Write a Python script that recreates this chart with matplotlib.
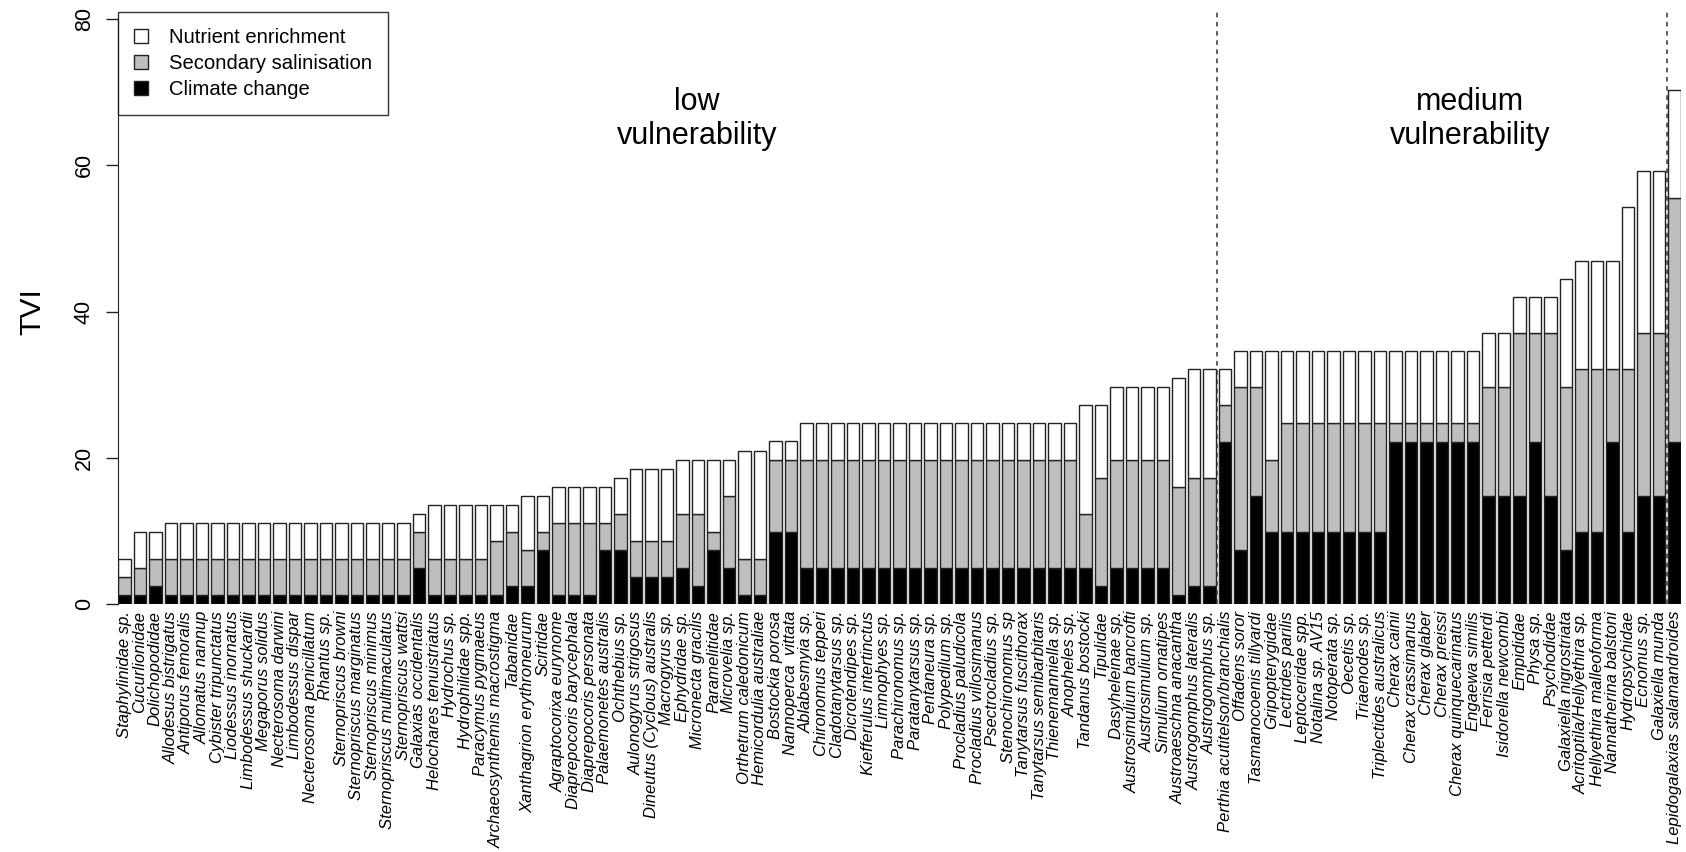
import matplotlib
matplotlib.use("Agg")
import matplotlib.pyplot as plt
import numpy as np
from matplotlib.patches import Patch

plt.rcParams["font.family"] = ["Liberation Sans", "DejaVu Sans"]

# --------------------------------------------------------------------------- #
# Data (TVI contributions, stacked bottom -> top)                              #
# --------------------------------------------------------------------------- #
taxa = [
    "Staphylinidae sp.", "Cucurlionidae", "Dolichopodidae", "Allodesus bistrigatus",
    "Antiporus femoralis", "Allomatus nannup", "Cybister tripunctatus", "Liodessus inornatus",
    "Limbodessus shuckardii", "Megaporus solidus", "Necterosoma darwini", "Limbodessus dispar",
    "Necterosoma penicillatum", "Rhantus sp.", "Sternopriscus browni", "Sternopriscus marginatus",
    "Sternopriscus minimus", "Sternopriscus multimaculatus", "Sternopriscus wattsi",
    "Galaxias occidentalis", "Helochares tenuistriatus", "Hydrochus sp.", "Hydrophilidae spp.",
    "Paracymus pygmaeus", "Archaeosynthemis macrostigma", "Tabanidae", "Xanthagrion erythroneurum",
    "Scirtidae", "Agraptocorixa eurynome", "Diaprepocoris barycephala", "Diaprepocoris personata",
    "Palaemonetes australis", "Ochthebius sp.", "Aulonogyrus strigosus",
    "Dineutus (Cyclous) australis", "Macrogyrus sp.", "Ephydridae sp.", "Micronecta gracilis",
    "Paramelitidae", "Microvelia sp.", "Orthetrum caledonicum", "Hemicordulia australiae",
    "Bostockia porosa", "Nannoperca  vittata", "Ablabesmyia sp.", "Chironomus tepperi",
    "Cladotanytarsus sp.", "Dicrotendipes sp.", "Kiefferulus intertinctus", "Limnophyes sp.",
    "Parachironomus sp.", "Paratanytarsus sp.", "Pentaneura sp.", "Polypedilum sp.",
    "Procladius paludicola", "Procladius villosimanus", "Psectrocladius sp.", "Stenochironomus sp",
    "Tanytarsus fuscithorax", "Tanytarsus semibarbitaris", "Thienemanniella sp.", "Anopheles sp.",
    "Tandanus bostocki", "Tipulidae", "Dasyheleinae sp.", "Austrosimulium bancrofti",
    "Austrosimulium sp.", "Simulium ornatipes", "Austroaeschna anacantha",
    "Austrogomphus lateralis", "Austrogomphus sp.", "Perthia acutitelson/branchialis",
    "Offadens soror", "Tasmanocoenis tillyardi", "Gripopterygidae", "Lectrides parilis",
    "Leptoceridae spp.", "Notalina sp. AV15", "Notoperata sp.", "Oecetis sp.", "Triaenodes sp.",
    "Triplectides australicus", "Cherax cainii", "Cherax crassimanus", "Cherax glaber",
    "Cherax preissi", "Cherax quinquecarinatus", "Engaewa similis", "Ferrisia petterdi",
    "Isidorella newcombi", "Empididae", "Physa sp.", "Psychodidae", "Galaxiella nigrostriata",
    "Acritoptila/Hellyethira sp.", "Hellyethira malleoforma", "Nannatherina balstoni",
    "Hydropsychidae", "Ecnomus sp.", "Galaxiella munda", "Lepidogalaxias salamandroides",
]

climate = [
    1.23, 1.23, 2.47, 1.23, 1.23, 1.23, 1.23, 1.23, 1.23, 1.23,
    1.23, 1.23, 1.23, 1.23, 1.23, 1.23, 1.23, 1.23, 1.23, 4.94,
    1.23, 1.23, 1.23, 1.23, 1.23, 2.47, 2.47, 7.41, 1.23, 1.23,
    1.23, 7.41, 7.41, 3.70, 3.70, 3.70, 4.94, 2.47, 7.41, 4.94,
    1.23, 1.23, 9.88, 9.88, 4.94, 4.94, 4.94, 4.94, 4.94, 4.94,
    4.94, 4.94, 4.94, 4.94, 4.94, 4.94, 4.94, 4.94, 4.94, 4.94,
    4.94, 4.94, 4.94, 2.47, 4.94, 4.94, 4.94, 4.94, 1.23, 2.47,
    2.47, 22.22, 7.41, 14.81, 9.88, 9.88, 9.88, 9.88, 9.88, 9.88,
    9.88, 9.88, 22.22, 22.22, 22.22, 22.22, 22.22, 22.22, 14.81, 14.81,
    14.81, 22.22, 14.81, 7.41, 9.88, 9.88, 22.22, 9.88, 14.81, 14.81,
    22.22,
]

salinity = [
    2.47, 3.70, 3.70, 4.94, 4.94, 4.94, 4.94, 4.94, 4.94, 4.94,
    4.94, 4.94, 4.94, 4.94, 4.94, 4.94, 4.94, 4.94, 4.94, 4.94,
    4.94, 4.94, 4.94, 4.94, 7.41, 7.41, 4.94, 2.47, 9.88, 9.88,
    9.88, 3.70, 4.94, 4.94, 4.94, 4.94, 7.41, 9.88, 2.47, 9.88,
    4.94, 4.94, 9.88, 9.88, 14.81, 14.81, 14.81, 14.81, 14.81, 14.81,
    14.81, 14.81, 14.81, 14.81, 14.81, 14.81, 14.81, 14.81, 14.81, 14.81,
    14.81, 14.81, 7.41, 14.81, 14.81, 14.81, 14.81, 14.81, 14.81, 14.81,
    14.81, 4.94, 22.22, 14.81, 9.88, 14.81, 14.81, 14.81, 14.81, 14.81,
    14.81, 14.81, 2.47, 2.47, 2.47, 2.47, 2.47, 2.47, 14.81, 14.81,
    22.22, 14.81, 22.22, 22.22, 22.22, 22.22, 9.88, 22.22, 22.22, 22.22,
    33.33,
]

nutrient = [
    2.47, 4.94, 3.70, 4.94, 4.94, 4.94, 4.94, 4.94, 4.94, 4.94,
    4.94, 4.94, 4.94, 4.94, 4.94, 4.94, 4.94, 4.94, 4.94, 2.47,
    7.41, 7.41, 7.41, 7.41, 4.94, 3.70, 7.41, 4.94, 4.94, 4.94,
    4.94, 4.94, 4.94, 9.88, 9.88, 9.88, 7.41, 7.41, 9.88, 4.94,
    14.81, 14.81, 2.47, 2.47, 4.94, 4.94, 4.94, 4.94, 4.94, 4.94,
    4.94, 4.94, 4.94, 4.94, 4.94, 4.94, 4.94, 4.94, 4.94, 4.94,
    4.94, 4.94, 14.81, 9.88, 9.88, 9.88, 9.88, 9.88, 14.81, 14.81,
    14.81, 4.94, 4.94, 4.94, 14.81, 9.88, 9.88, 9.88, 9.88, 9.88,
    9.88, 9.88, 9.88, 9.88, 9.88, 9.88, 9.88, 9.88, 7.41, 7.41,
    4.94, 4.94, 4.94, 14.81, 14.81, 14.81, 14.81, 22.22, 22.22, 22.22,
    14.81,
]

series_names = ["Nutrient enrichment", "Secondary salinisation", "Climate change"]
series_colors = ["white", "#BEBEBE", "black"]
group_labels = ["low\nvulnerability", "medium\nvulnerability"]
group_breaks = [71, 100]          # dashed line after these bar indices (1-based)

# --------------------------------------------------------------------------- #
# Plot                                                                        #
# --------------------------------------------------------------------------- #
fig = plt.figure(figsize=(16.86, 8.52), dpi=100)
ax = fig.add_axes([118 / 1686, (852 - 604) / 852, 1563 / 1686, 592.3 / 852])

n = len(taxa)
x = 0.7 + 1.2 * np.arange(n)
cc = np.array(climate)
sal = np.array(salinity)
nut = np.array(nutrient)

kw = dict(width=1.0, edgecolor="#222222", linewidth=1.0)
ax.bar(x, cc, color=series_colors[2], **kw)
ax.bar(x, sal, bottom=cc, color=series_colors[1], **kw)
ax.bar(x, nut, bottom=cc + sal, color=series_colors[0], **kw)

for b in group_breaks:
    ax.axvline(0.7 + 1.2 * (b - 1) + 0.6, color="#333333", ls=(0, (3, 3)), lw=1.1)

ax.text(45.0, 66.3, group_labels[0], ha="center", va="center", fontsize=22,
        linespacing=1.15)
ax.text(104.9, 66.3, group_labels[1], ha="center", va="center", fontsize=22,
        linespacing=1.15)

ax.set_xlim(0.2, 121.2)
ax.set_ylim(0, 81)

ax.set_xticks(x)
ax.set_xticklabels(taxa, rotation=90, ha="center", va="top", fontsize=12.0,
                   style="italic")
ax.tick_params(axis="x", length=0, pad=5)

ax.set_yticks([0, 20, 40, 60, 80])
ax.set_yticklabels(["0", "20", "40", "60", "80"], rotation=90, va="center",
                   fontsize=15.5)
ax.tick_params(axis="y", length=8.6, width=1.0, pad=8, color="#222222")

fig.text(32 / 1686, 1 - 312 / 852, "TVI", rotation=90, ha="center", va="center",
         fontsize=21.7)

for s in ("top", "right", "bottom"):
    ax.spines[s].set_visible(False)
ax.spines["left"].set_bounds(0, 80)
ax.spines["left"].set_color("#222222")

handles = [Patch(facecolor=c, edgecolor="#222222", linewidth=1.0)
           for c in series_colors]
leg = ax.legend(handles, series_names, loc="upper left", bbox_to_anchor=(0, 1),
                fontsize=14.6, frameon=True, fancybox=False, borderaxespad=0.0,
                borderpad=0.8, handlelength=0.7, handleheight=0.7,
                handletextpad=1.0, labelspacing=0.34)
leg.get_frame().set_edgecolor("black")
leg.get_frame().set_linewidth(1.0)

fig.savefig("out.png", dpi=100)
